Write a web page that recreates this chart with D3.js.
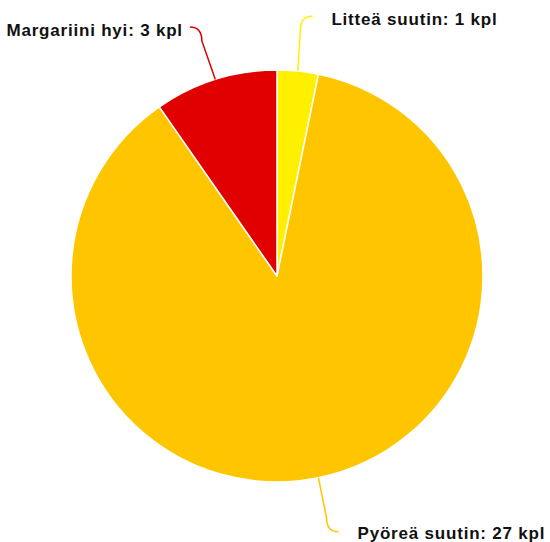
<!DOCTYPE html>
<html>
<head>
<meta charset="utf-8">
<script src="https://cdn.jsdelivr.net/npm/d3@7"></script>
<style>
  body { margin: 0; background: #fff; }
  text { font-family: "Liberation Sans", Arial, sans-serif; }
</style>
</head>
<body>
<div id="chart"></div>
<script>
// Chart data
const categories = ["Litteä suutin", "Pyöreä suutin", "Margariini hyi"];
const values = [1, 27, 3];
const colors = ["#fff000", "#ffc600", "#e00000"];

const width = 550;
const height = 542;
const cx = 277;
const cy = 276;
const radius = 206;
const labelRadius = 261; // where the connectors end

const svg = d3
  .select("#chart")
  .append("svg")
  .attr("width", width)
  .attr("height", height);

const pie = d3.pie().sort(null).value((d) => d.value);
const arc = d3.arc().innerRadius(0).outerRadius(radius);

const slices = pie(categories.map((c, i) => ({ name: c, value: values[i], color: colors[i] })));

const g = svg.append("g").attr("transform", `translate(${cx},${cy})`);

g.selectAll("path.slice")
  .data(slices)
  .enter()
  .append("path")
  .attr("class", "slice")
  .attr("d", arc)
  .attr("fill", (d) => d.data.color)
  .attr("stroke", "#fff")
  .attr("stroke-width", 1.5)
  .attr("stroke-linejoin", "round");

// Label geometry (Highcharts style crooked connector)
slices.forEach((d) => {
  const a = (d.startAngle + d.endAngle) / 2;
  const dir = Math.sin(a) >= 0 ? 1 : -1; // right or left side
  const vdir = Math.cos(a) >= 0 ? 1 : -1; // top or bottom half
  const p0 = [radius * Math.sin(a), -radius * Math.cos(a)];
  const end = [labelRadius * Math.sin(a) + 9 * dir, -labelRadius * Math.cos(a)];
  const bend = [end[0] - 12 * dir, end[1] + 14 * vdir];

  g.append("path")
    .attr("d", `M${p0[0]},${p0[1]} L${bend[0]},${bend[1]} Q${bend[0]},${end[1]} ${end[0]},${end[1]}`)
    .attr("fill", "none")
    .attr("stroke", d.data.color)
    .attr("stroke-width", 1.5);

  g.append("text")
    .attr("x", end[0] + (dir > 0 ? 19 : -7))
    .attr("y", end[1] + (vdir > 0 ? 3 : 1))
    .attr("dy", "0.35em")
    .attr("text-anchor", dir > 0 ? "start" : "end")
    .style("font-size", "17px")
    .style("font-weight", "bold")
    .style("letter-spacing", "0.8px")
    .style("fill", "#111")
    .text(`${d.data.name}: ${d.data.value} kpl`);
});
</script>
</body>
</html>
